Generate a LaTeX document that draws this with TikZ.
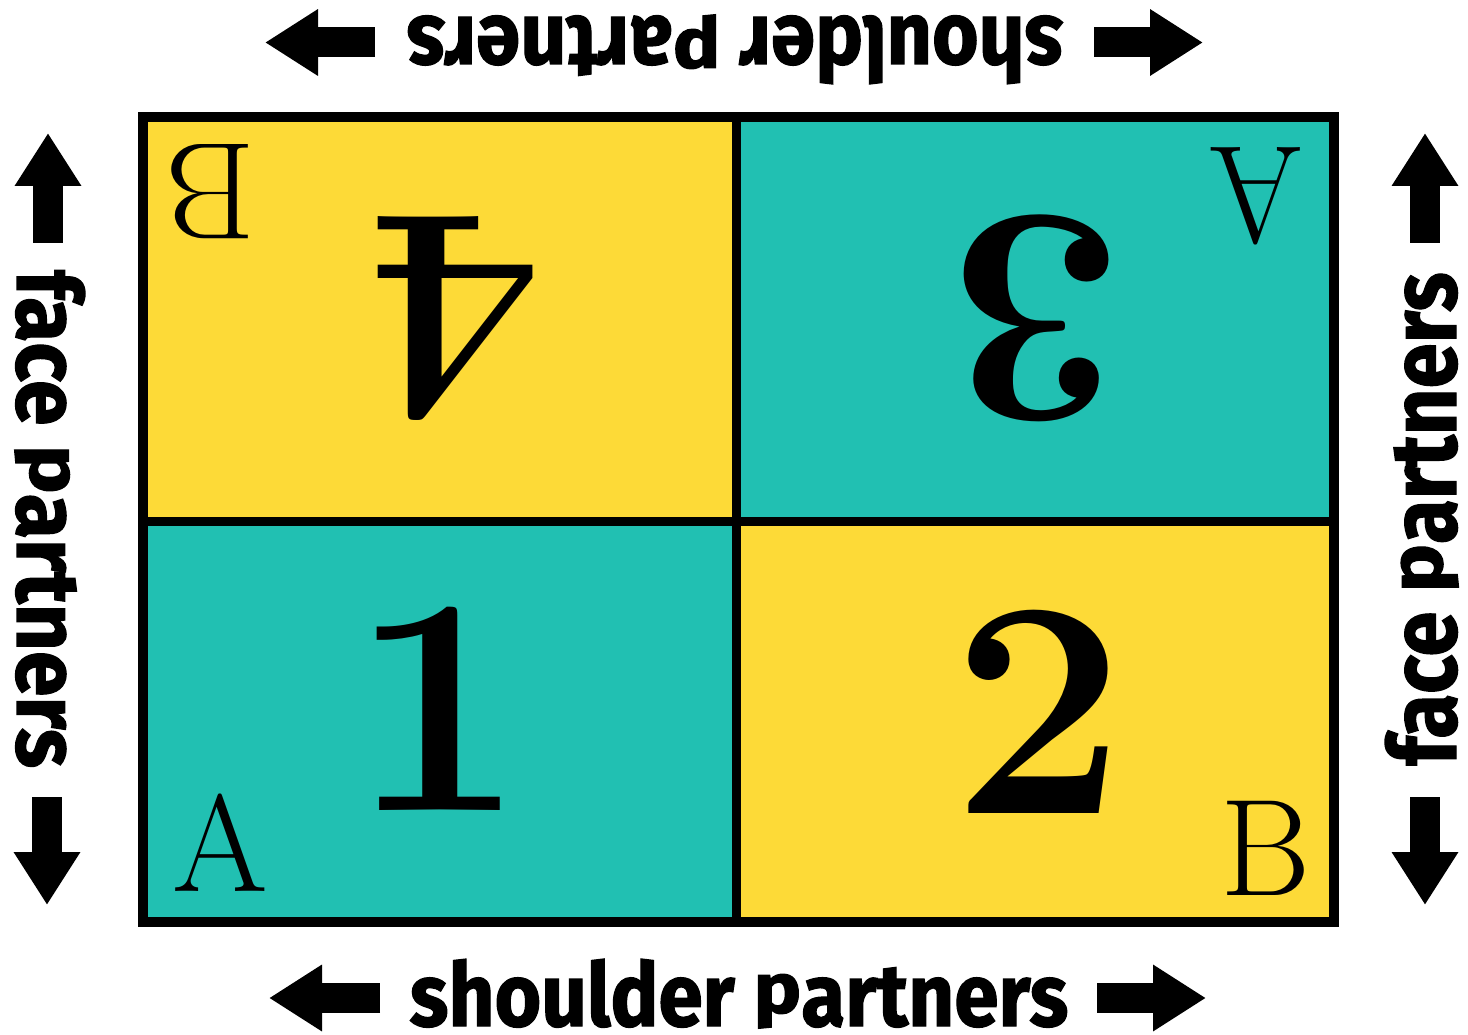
\documentclass[tikz,border=0pt]{standalone}
\usepackage{fontspec}
\usepackage{graphicx}
\newfontfamily\labfont{Fira Sans}[BoldFeatures={FakeBold=1.5}]
\usetikzlibrary{arrows.meta}
\definecolor{cellyellow}{HTML}{FDDA37}
\definecolor{cellteal}{HTML}{21C0B2}
\newcommand{\lowp}{\raisebox{0.15em}{\scalebox{1}[0.8]{p}}}
\tikzset{
  blockarrow/.style={line width=30pt, -{Triangle[length=53pt,width=63pt]}},
  lbl/.style={inner sep=0pt, font=\labfont\bfseries, anchor=base},
  digit/.style={inner sep=0pt, font=\fontsize{310}{310}\selectfont\bfseries},
  corner/.style={inner sep=0pt, font=\fontsize{138}{138}\selectfont},
  gridline/.style={line width=9pt}
}
\begin{document}
\begin{tikzpicture}[x=1pt,y=-1pt]
\useasboundingbox (0,0) rectangle (1468,1035);
% cells
\fill[cellyellow] (143,117) rectangle (736.5,521);
\fill[cellteal] (736.5,117) rectangle (1334,521);
\fill[cellteal] (143,521) rectangle (736.5,922);
\fill[cellyellow] (736.5,521) rectangle (1334,922);
% grid
\coordinate (gt) at (736.5,117);
\coordinate (gb) at (736.5,922);
\coordinate (gl) at (143,521);
\coordinate (gr) at (1334,521);
\draw[gridline] (gt) -- (gb);
\draw[gridline] (gl) -- (gr);
\draw[line width=10pt] (143,117) rectangle (1334,922);
% numbers
\node[digit, rotate=180] (n4) at (455,318) {4};
\node[digit, rotate=180] (n3) at (1036,318) {3};
\node[digit] (n1) at (438,709) {1};
\node[digit] (n2) at (1039,712) {2};
% corner letters
\node[corner, rotate=180] (cB1) at (210,192) {B};
\node[corner, rotate=180] (cA1) at (1256,196) {A};
\node[corner] (cA2) at (220,843) {A};
\node[corner] (cB2) at (1266,848) {B};
% labels
\node[lbl, rotate=180] (tlab) at (735,17) {\resizebox{656pt}{67pt}{shoulder \lowp artners}};
\node[lbl] (blab) at (739,1026) {\resizebox{658pt}{67pt}{shoulder \lowp artners}};
\node[lbl, rotate=-90] (llab) at (17,519) {\resizebox{498pt}{68pt}{face \lowp artners}};
\node[lbl, rotate=90] (rlab) at (1456,519) {\resizebox{493pt}{71pt}{face \lowp artners}};
% arrows
\coordinate (ta1s) at (375,42.5); \coordinate (ta1t) at (265,42.5);
\coordinate (ta2s) at (1094,42.5); \coordinate (ta2t) at (1203,42.5);
\coordinate (ba1s) at (380,998); \coordinate (ba1t) at (269,998);
\coordinate (ba2s) at (1097,998); \coordinate (ba2t) at (1206,998);
\coordinate (la1s) at (48,243); \coordinate (la1t) at (48,133);
\coordinate (la2s) at (47,797); \coordinate (la2t) at (47,905);
\coordinate (ra1s) at (1425,243); \coordinate (ra1t) at (1425,133);
\coordinate (ra2s) at (1425,797); \coordinate (ra2t) at (1425,905);
\draw[blockarrow] (ta1s) -- (ta1t);
\draw[blockarrow] (ta2s) -- (ta2t);
\draw[blockarrow] (ba1s) -- (ba1t);
\draw[blockarrow] (ba2s) -- (ba2t);
\draw[blockarrow] (la1s) -- (la1t);
\draw[blockarrow] (la2s) -- (la2t);
\draw[blockarrow] (ra1s) -- (ra1t);
\draw[blockarrow] (ra2s) -- (ra2t);
\end{tikzpicture}
\end{document}
